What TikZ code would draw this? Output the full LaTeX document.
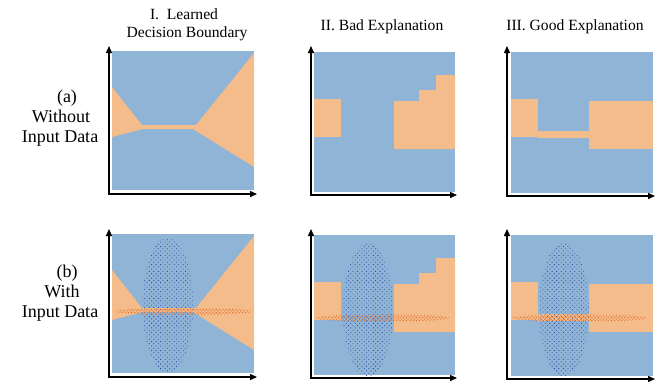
\documentclass[tikz,border=0pt]{standalone}
\usepackage{fontspec}
\setmainfont{Liberation Serif}
\usetikzlibrary{patterns.meta,arrows.meta}
\definecolor{bgblue}{RGB}{143,180,214}
\definecolor{regorange}{RGB}{243,188,138}
\definecolor{dotblue}{RGB}{40,70,160}
\definecolor{dotorange}{RGB}{230,105,30}
\tikzset{
  bluebg/.style={fill=bgblue},
  orreg/.style={fill=regorange},
  axisline/.style={line width=1.4pt,{Triangle[length=7pt,width=6pt]}-{Triangle[length=7pt,width=6pt]}},
  datablob/.style={pattern={Dots[distance=3.2pt,radius=0.58pt,angle=45]},pattern color=dotblue},
  databand/.style={pattern={Dots[distance=2.3pt,radius=0.7pt,angle=45]},pattern color=dotorange},
  lbl/.style={anchor=base,inner sep=0pt},
  rowlbl/.style={lbl,font=\fontsize{18}{20}\selectfont}
}
\begin{document}
\begin{tikzpicture}[x=1pt,y=-1pt,font=\fontsize{15.6}{19}\selectfont]
\useasboundingbox (0,0) rectangle (664,389);

% headers
\node[lbl] (h1a) at (184,19) {I.\ \ Learned};
\node[lbl] (h1b) at (187,37) {Decision Boundary};
\node[lbl] (h2) at (382,30) {II. Bad Explanation};
\node[lbl] (h3) at (575,30) {III. Good Explanation};

% row labels
\node[rowlbl] (ra1) at (67,102) {(a)};
\node[rowlbl] (ra2) at (61,122) {Without};
\node[rowlbl] (ra3) at (60,142) {Input Data};
\node[rowlbl] (rb1) at (67,277) {(b)};
\node[rowlbl] (rb2) at (62,297) {With};
\node[rowlbl] (rb3) at (60,317) {Input Data};

\foreach \dy/\r in {0/a,183/b}{
\begin{scope}[shift={(0,\dy)}]
  % panel I
  \fill[bluebg] (112,51) rectangle (254,190);
  \fill[orreg] (112,87) -- (142,125) -- (196,125) -- (254,53) -- (254,167) -- (193,129) -- (143,129) -- (112,137) -- cycle;
  \coordinate (p1y\r) at (109,46);
  \coordinate (p1o\r) at (109,194);
  \coordinate (p1x\r) at (257,194);
  \draw[axisline] (p1y\r) -- (p1o\r) -- (p1x\r);
  % panel II
  \fill[bluebg] (314,52) rectangle (455,192);
  \fill[orreg] (314,99) rectangle (341,137);
  \fill[orreg] (394,149) -- (394,101) -- (419,101) -- (419,90) -- (436,90) -- (436,75) -- (455,75) -- (455,149) -- cycle;
  \coordinate (p2y\r) at (311,46);
  \coordinate (p2o\r) at (311,195);
  \coordinate (p2x\r) at (457,195);
  \draw[axisline] (p2y\r) -- (p2o\r) -- (p2x\r);
  % panel III
  \fill[bluebg] (511,52) rectangle (653,193);
  \fill[orreg] (511,99) rectangle (538,137);
  \fill[orreg] (537,131) rectangle (590,138);
  \fill[orreg] (589,101) rectangle (653,149);
  \coordinate (p3y\r) at (507,46);
  \coordinate (p3o\r) at (507,196);
  \coordinate (p3x\r) at (655,196);
  \draw[axisline] (p3y\r) -- (p3o\r) -- (p3x\r);
\end{scope}
}

% input data (bottom row)
\fill[datablob] (168,305) ellipse [x radius=25.5pt, y radius=67pt];
\fill[databand] (183.5,311.5) ellipse [x radius=68.5pt, y radius=3.6pt];
\fill[datablob] (368,310) ellipse [x radius=25pt, y radius=67pt];
\fill[databand] (382.5,318) ellipse [x radius=67.5pt, y radius=3.6pt];
\fill[datablob] (564,310) ellipse [x radius=25pt, y radius=67pt];
\fill[databand] (579.5,318) ellipse [x radius=67.5pt, y radius=3.6pt];
\end{tikzpicture}
\end{document}
